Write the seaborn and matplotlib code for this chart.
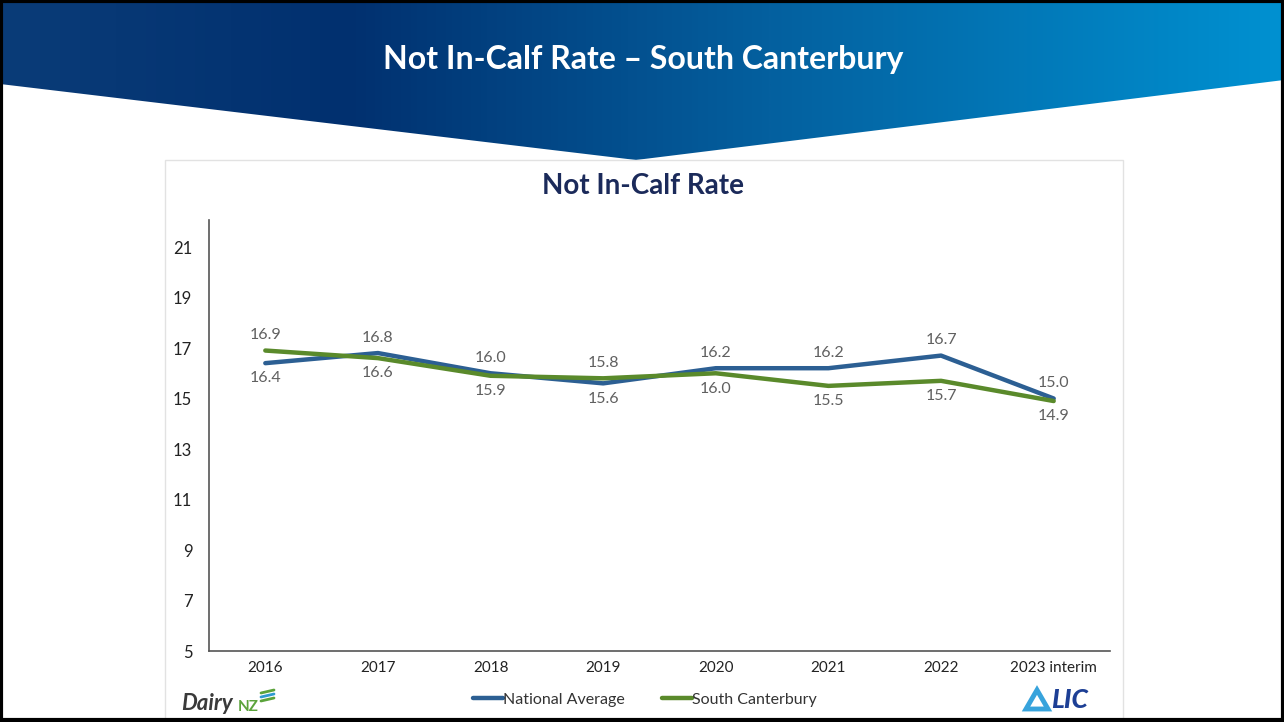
import numpy as np
import pandas as pd
import matplotlib
matplotlib.use("Agg")
import matplotlib.pyplot as plt
from matplotlib.colors import LinearSegmentedColormap
from matplotlib.patches import Polygon, Rectangle
from matplotlib.lines import Line2D
import seaborn as sns

# ---------------- data ----------------
years = ["2016", "2017", "2018", "2019", "2020", "2021", "2022", "2023 interim"]
national = [16.4, 16.8, 16.0, 15.6, 16.2, 16.2, 16.7, 15.0]
south_cant = [16.9, 16.6, 15.9, 15.8, 16.0, 15.5, 15.7, 14.9]
series_names = ["National Average", "South Canterbury"]
y_ticks = [5, 7, 9, 11, 13, 15, 17, 19, 21]
slide_title = "Not In-Calf Rate \u2013 South Canterbury"
chart_title = "Not In-Calf Rate"

colors = {"National Average": "#2C5F93", "South Canterbury": "#5A8A2B"}

df = pd.DataFrame({
    "year": years * 2,
    "value": national + south_cant,
    "series": [series_names[0]] * len(years) + [series_names[1]] * len(years),
})

sns.set_theme(style="white")
plt.rcParams["font.family"] = ["Lato", "DejaVu Sans"]

W, H = 1284, 722
fig = plt.figure(figsize=(W / 100, H / 100), dpi=100)
fig.patch.set_facecolor("white")

# ---------------- slide background (banner with chevron) ----------------
bg = fig.add_axes([0, 0, 1, 1], zorder=0)
bg.set_xlim(0, W)
bg.set_ylim(H, 0)
bg.axis("off")
cmap = LinearSegmentedColormap.from_list(
    "banner", [(0.0, "#0A3C78"), (0.27, "#01306F"), (0.6, "#04609F"), (1.0, "#0091D1")])
grad = np.linspace(0, 1, 512).reshape(1, -1)
im = bg.imshow(grad, cmap=cmap, aspect="auto", extent=(0, W, 162, 0), zorder=0)
chevron = Polygon([(0, 0), (W, 0), (W, 80), (636, 160), (0, 84)], closed=True,
                  transform=bg.transData, facecolor="none", edgecolor="none")
bg.add_patch(chevron)
im.set_clip_path(chevron)
bg.text(643, 60, slide_title, color="white", fontsize=23, fontweight="bold",
        ha="center", va="center", family=["Lato", "DejaVu Sans"])

# chart panel
bg.add_patch(Rectangle((165, 160), 958, 570, facecolor="white", edgecolor="#E2E2E2",
                       linewidth=1.0, zorder=1))
bg.text(643, 186, chart_title, color="#1B2A5A", fontsize=20, fontweight="bold",
        ha="center", va="center", zorder=2)

# DairyNZ logo text
bg.text(181, 703, "Dairy", color="#3A3A3A", fontsize=16, fontweight="bold",
        style="italic", ha="left", va="center", zorder=2)
bg.text(238, 707, "NZ", color="#5BA33B", fontsize=11, fontweight="bold",
        ha="left", va="center", zorder=2)
for i, c in enumerate(["#5BA33B", "#2E9AD0", "#5BA33B"]):
    bg.plot([261, 274], [693 + i * 4, 690 + i * 4], color=c, lw=2, zorder=2,
            solid_capstyle="round")

# LIC logo
bg.add_patch(Polygon([(1026, 709), (1037, 690), (1048, 709)], closed=True,
                     facecolor="none", edgecolor="#37A3DC", linewidth=3.5, zorder=2))
bg.text(1051, 700, "LIC", color="#1D3F95", fontsize=19, fontweight="black",
        style="italic", ha="left", va="center", zorder=2)

# frame
bg.add_patch(Rectangle((1, 1), W - 2, H - 3, facecolor="none", edgecolor="black",
                       linewidth=3, zorder=5))

# ---------------- chart ----------------
ax = fig.add_axes([209 / W, 1 - 651 / H, (1110 - 209) / W, (651 - 220) / H], zorder=3)
ax.patch.set_alpha(0)
sns.lineplot(data=df, x="year", y="value", hue="series", palette=colors,
             linewidth=3.2, ax=ax, legend=False, sort=False)
ax.set_xlim(-0.5, len(years) - 0.5)
ax.set_ylim(5, 22.07)
ax.set_yticks(y_ticks)
ax.set_yticklabels([str(t) for t in y_ticks], fontsize=12, color="#222222")
ax.set_xticks(range(len(years)))
ax.set_xticklabels(years, fontsize=11, color="#222222")
ax.tick_params(axis="both", length=0, pad=12)
ax.tick_params(axis="x", pad=7)
ax.set_xlabel("")
ax.set_ylabel("")
for s in ["top", "right"]:
    ax.spines[s].set_visible(False)
for s in ["left", "bottom"]:
    ax.spines[s].set_color("#555555")
    ax.spines[s].set_linewidth(1.2)

# data labels: higher value above, lower value below
for i in range(len(years)):
    a, b = national[i], south_cant[i]
    for v, other in ((a, b), (b, a)):
        off = 11 if v >= other else -11
        ax.annotate(f"{v:.1f}", (i, v), xytext=(0, off), textcoords="offset points",
                    ha="center", va="center", fontsize=11.5, color="#606060")

# legend
handles = [Line2D([0], [0], color=colors[n], lw=3.2) for n in series_names]
fig.legend(handles, series_names, loc="center", bbox_to_anchor=(645 / W, 1 - 700 / H),
           ncol=2, frameon=False, fontsize=11.5, handlelength=1.9, handletextpad=0.0,
           columnspacing=2.3, labelcolor="#333333")

fig.savefig("out.png", dpi=100)
